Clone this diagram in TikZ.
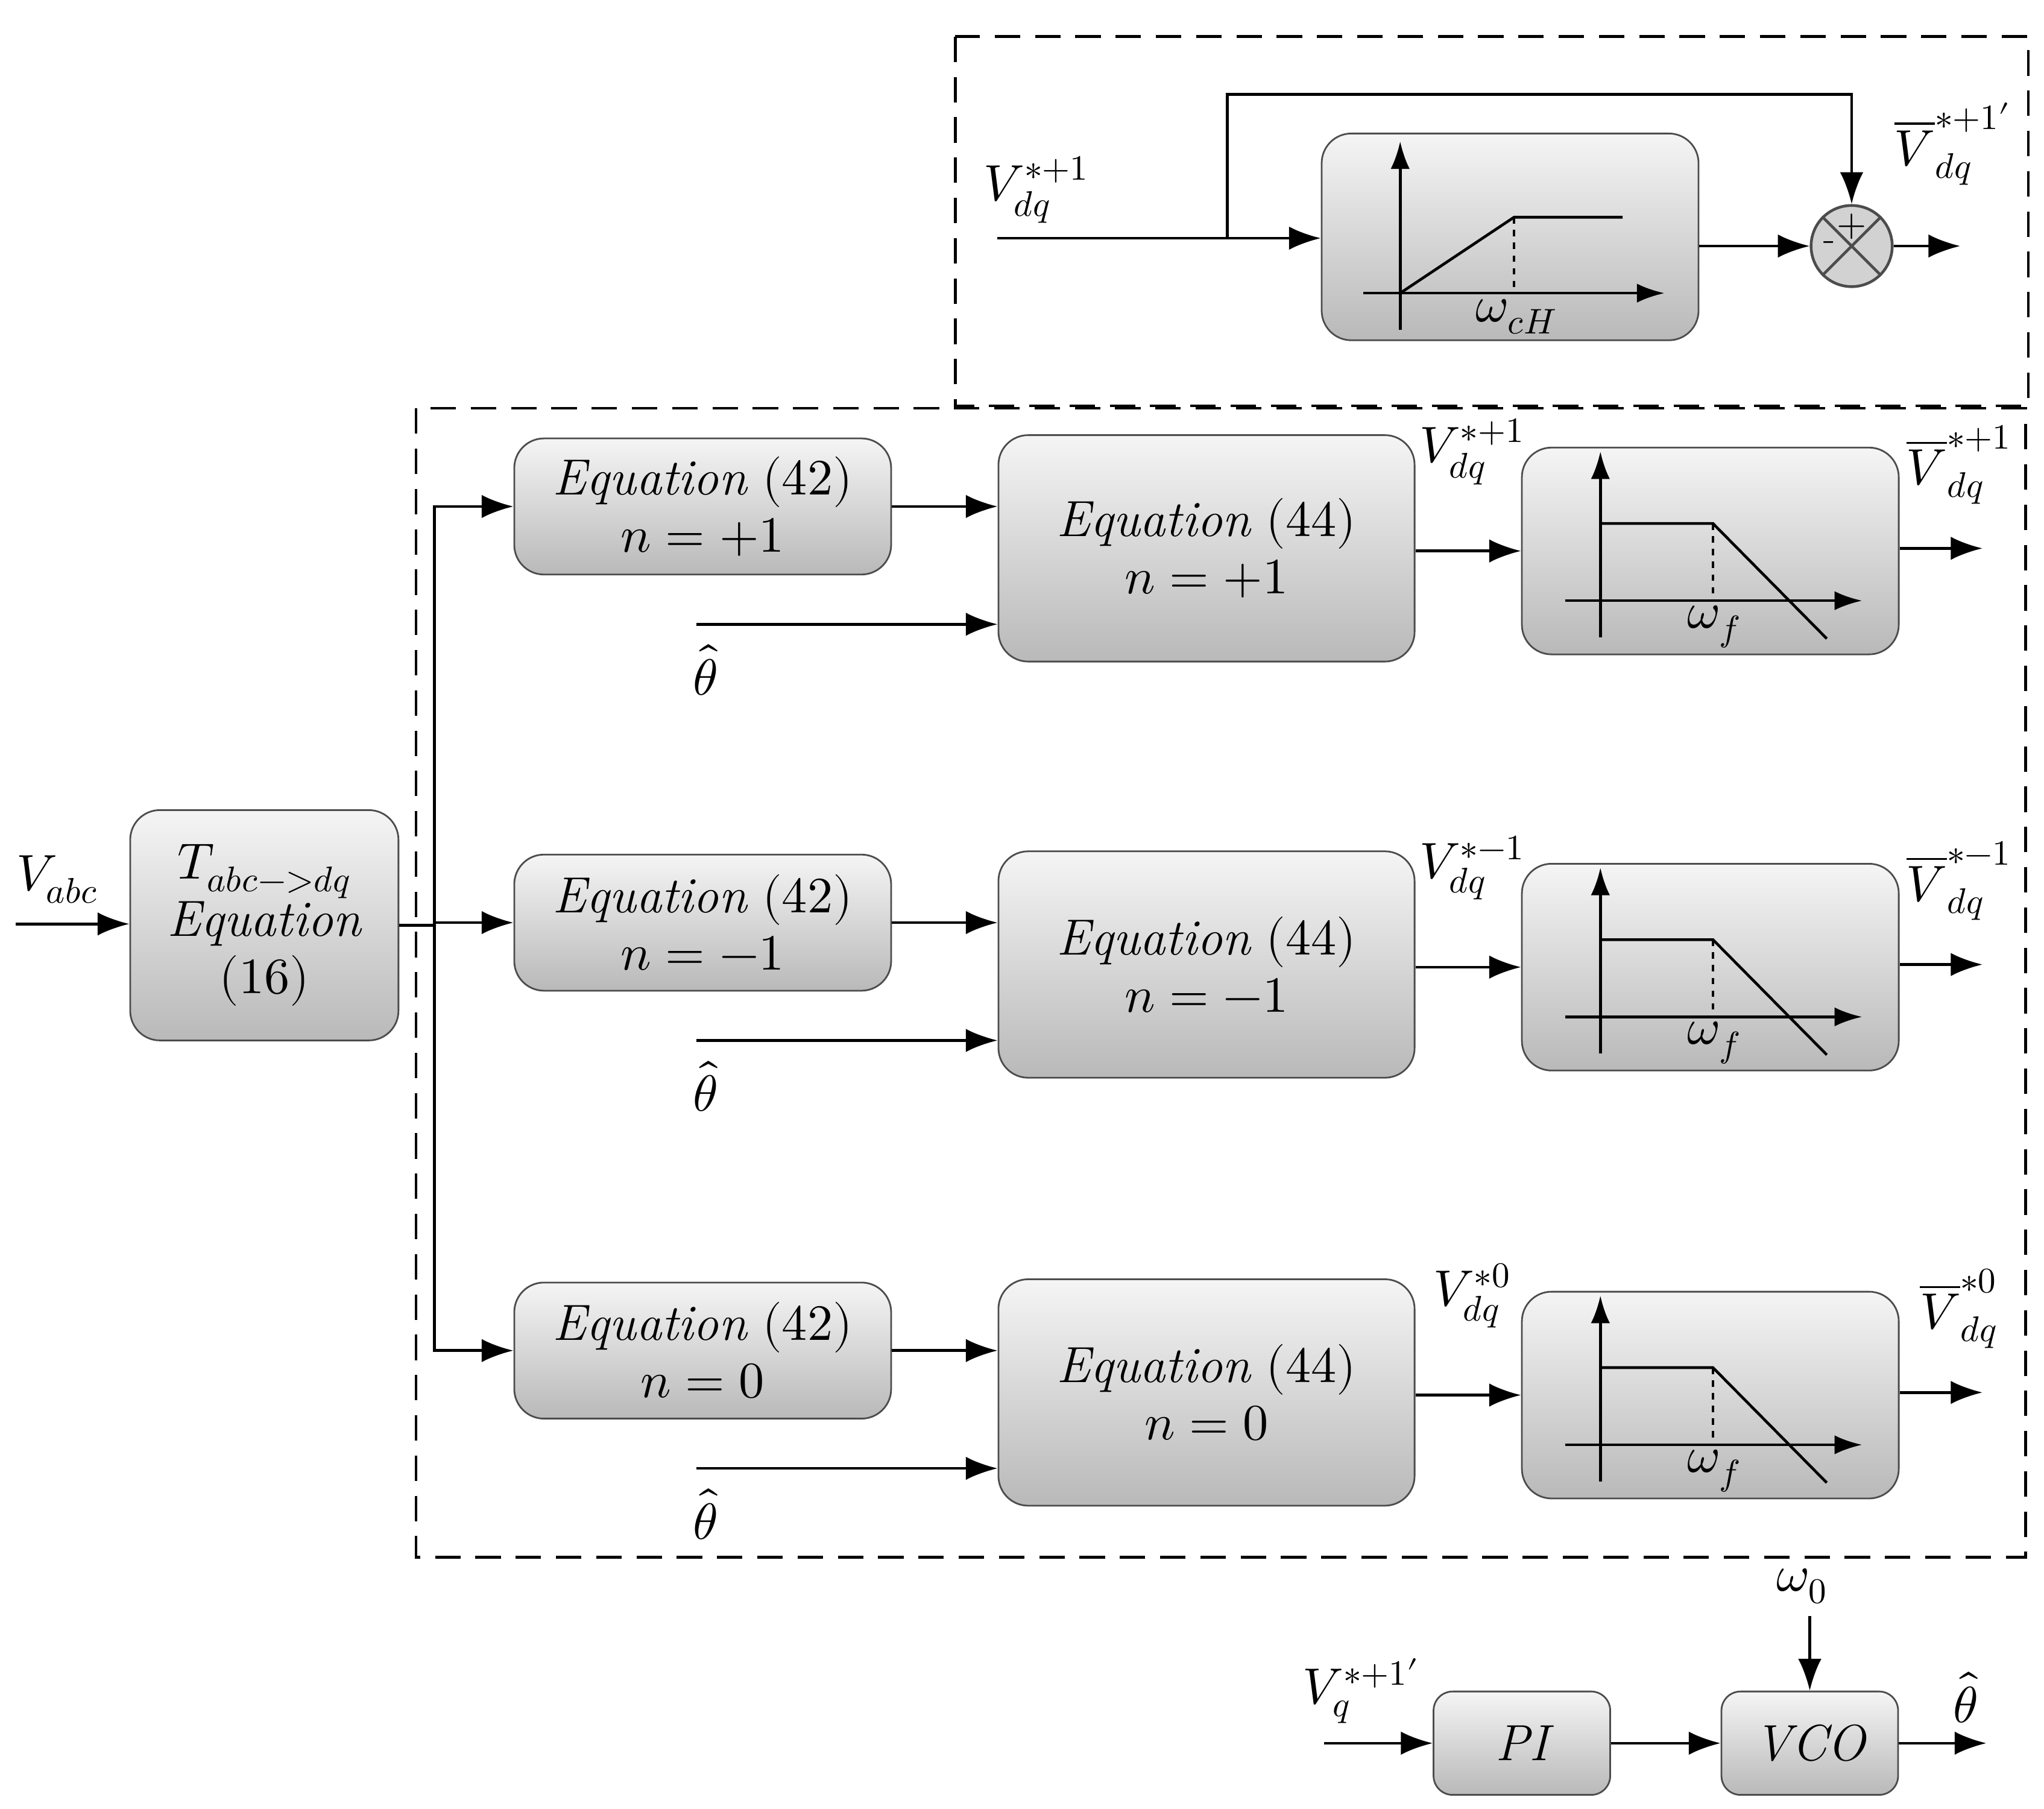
\documentclass[tikz,border=0pt]{standalone}
\usepackage{amsmath}
\usepackage{amssymb}
\usepackage{fontspec}
\usepackage{unicode-math}
\usetikzlibrary{arrows,arrows.meta,calc}

\tikzset{
  blk/.style={draw=gray!60!black, thick, rounded corners=14pt, top color=gray!8, bottom color=gray!55, inner sep=0pt},
  sig/.style={-{Latex[length=15pt,width=11pt]}, line width=1.3pt},
  ax/.style={-{Latex[length=13pt,width=9pt]}, line width=1.3pt},
  big/.style={font=\fontsize{24}{29}\selectfont},
  frame/.style={dashed, line width=1.3pt, dash pattern=on 12pt off 7pt}
}

\begin{document}
\begin{tikzpicture}[x=0.0217cm, y=-0.0217cm, big, line width=1.3pt]
            \useasboundingbox (0,0) rectangle (1562,1382);
            % frames
            \draw[frame] (730,28) rectangle (1550,310);
            \draw[frame] (318,312) rectangle (1548,1190);
            % high pass part
            \node[blk, minimum width=288*0.0217cm, minimum height=158*0.0217cm] (HP) at (1154,181) {};
            \draw[ax] ($(HP.center)+(-84,71)$) -- ($(HP.center)+(-84,-73)$);
            \draw[ax] ($(HP.center)+(-112,43)$) -- ($(HP.center)+(118,43)$);
            \draw ($(HP.center)+(-84,43)$) -- ($(HP.center)+(3,-15)$) -- ($(HP.center)+(86,-15)$);
            \draw[dashed] ($(HP.center)+(3,-15)$) -- ($(HP.center)+(3,43)$);
            \node at ($(HP.center)+(5,61)$) {$\omega_{cH}$};
            \coordinate (Vin) at (762,182);
            \node (VinL) at (792,145) {$V_{dq}^{*+1}$};
            \coordinate (Br) at (938,182);
            \node[circle, draw=gray!60!black, fill=gray!35, minimum size=62*0.0217cm, inner sep=0pt] (Sum) at (1415,188) {};
            \draw[gray!60!black] (Sum.north east) -- (Sum.south west) (Sum.north west) -- (Sum.south east);
            \node[font=\fontsize{18}{20}\selectfont] at ($(Sum.center)+(0,-15)$) {$+$};
            \node[font=\fontsize{18}{20}\selectfont] at ($(Sum.center)+(-17,0)$) {-};
            \draw[sig] (Vin) -- (HP.west |- Vin);
            \draw[sig] (Br) -- (938,72) -| (Sum.north);
            \draw[sig] (HP.east |- Sum) -- (Sum.west);
            \coordinate (SumOut) at (1498,188);
            \draw[sig] (Sum.east) -- (SumOut);
            \node at (1492,110) {$\overline{V}_{dq}^{*+1\prime}$};
            % transformation
            \node[blk, minimum width=205*0.0217cm, minimum height=176*0.0217cm, align=center] (T) at (202,707)
                {$T_{abc->dq}$\\[-2pt]$\mathit{Equation}$\\[-2pt]$(16)$};
            \coordinate (Vabc) at (12,706);
            \node at (44,672) {$V_{abc}$};
            \draw[sig] (Vabc) -- (T.west |- Vabc);
            \coordinate (Split) at (332,707);
            \draw (T.east |- Split) -- (Split);
            % rows
            \foreach \dy/\n/\s in {0/+1/{*+1}, 318/-1/{*-1}, 645/0/{*0}} {
                \node[blk, minimum width=288*0.0217cm, minimum height=104*0.0217cm, align=center] (E42) at (537,387+\dy)
                    {$\mathit{Equation}\ (42)$\\[-2pt]$n=\n$};
                \node[blk, minimum width=318*0.0217cm, minimum height=173*0.0217cm, align=center] (E44) at (922,419+\dy)
                    {$\mathit{Equation}\ (44)$\\[-2pt]$n=\n$};
                \node[blk, minimum width=288*0.0217cm, minimum height=158*0.0217cm] (LP) at (1307,421+\dy) {};
                \draw[ax] ($(LP.center)+(-84,66)$) -- ($(LP.center)+(-84,-76)$);
                \draw[ax] ($(LP.center)+(-111,38)$) -- ($(LP.center)+(116,38)$);
                \draw ($(LP.center)+(-84,-21)$) -- ($(LP.center)+(2,-21)$) -- ($(LP.center)+(89,67)$);
                \draw[dashed] ($(LP.center)+(2,-21)$) -- ($(LP.center)+(2,38)$);
                \node at ($(LP.center)+(3,58)$) {$\omega_f$};
                \draw[sig] (Split) |- (E42.west);
                \draw[sig] (E42.east) -- (E44.west |- E42.east);
                \coordinate (Th) at (532,477+\dy);
                \node at (539,512+\dy) {$\hat{\theta}$};
                \draw[sig] (Th) -- (E44.west |- Th);
                \draw[sig] (E44.east |- LP.west) -- (LP.west);
                \node at (1125,345+\dy) {$V_{dq}^{\s}$};
                \coordinate (Out) at (1515,419+\dy);
                \draw[sig] (LP.east |- Out) -- (Out);
                \node at (1497,355+\dy) {$\overline{V}_{dq}^{\s}$};
            }
            % PLL
            \node[blk, rounded corners=9pt, minimum width=135*0.0217cm, minimum height=79*0.0217cm] (PI) at (1163,1332) {$\mathit{PI}$};
            \node[blk, rounded corners=9pt, minimum width=135*0.0217cm, minimum height=79*0.0217cm] (VCO) at (1383,1332) {$\mathit{VCO}$};
            \coordinate (Vq) at (1012,1332);
            \node at (1040,1292) {$V_{q}^{*+1\prime}$};
            \draw[sig] (Vq) -- (PI.west);
            \draw[sig] (PI.east) -- (VCO.west);
            \node (W0) at (1377,1212) {$\omega_0$};
            \draw[sig] (VCO.north |- 0,1235) -- (VCO.north);
            \coordinate (ThOut) at (1518,1332);
            \draw[sig] (VCO.east) -- (ThOut);
            \node at (1502,1297) {$\hat{\theta}$};
\end{tikzpicture}
\end{document}
